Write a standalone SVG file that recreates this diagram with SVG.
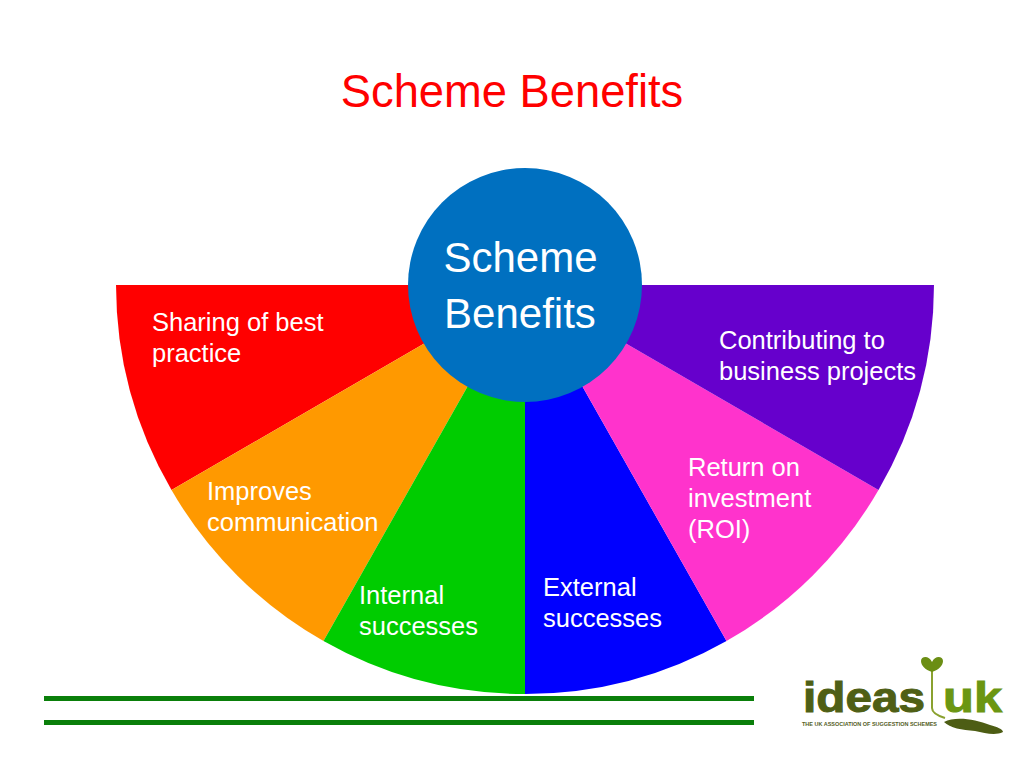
<svg xmlns="http://www.w3.org/2000/svg" width="1024" height="768" viewBox="0 0 1024 768">
<style>
text{font-family:"Liberation Sans",Arial,sans-serif}
.l{font-size:25.500px;fill:#fff}
.c{font-size:42px;fill:#fff}
.lg{font-weight:700}
</style>
<rect width="1024" height="768" fill="#fff"/>
<text id="title" x="512" y="107" text-anchor="middle" font-size="45.300" fill="#f00">Scheme Benefits</text>
<g id="slice-red"><path d="M525 285H116A409 409 0 0 0 171.500 490Z" fill="#f00"/><text class="l" x="152" y="331">Sharing of best</text><text class="l" x="152" y="362">practice</text></g>
<g id="slice-orange"><path d="M525 285L171.500 490A409 409 0 0 0 323.500 641Z" fill="#f90"/><text class="l" x="207" y="500">Improves</text><text class="l" x="207" y="531">communication</text></g>
<g id="slice-green"><path d="M525 285L323.500 641A409 409 0 0 0 525 694Z" fill="#0c0"/><text class="l" x="359" y="604">Internal</text><text class="l" x="359" y="635">successes</text></g>
<g id="slice-blue"><path d="M525 285V694A409 409 0 0 0 726.500 641Z" fill="#00f"/><text class="l" x="543" y="596">External</text><text class="l" x="543" y="627">successes</text></g>
<g id="slice-pink"><path d="M525 285L726.500 641A409 409 0 0 0 878.500 490Z" fill="#f3c"/><text class="l" x="688" y="476">Return on</text><text class="l" x="688" y="507">investment</text><text class="l" x="688" y="538">(ROI)</text></g>
<g id="slice-purple"><path d="M525 285L878.500 490A409 409 0 0 0 934 285Z" fill="#60c"/><text class="l" x="719" y="349">Contributing to</text><text class="l" x="719" y="380">business projects</text></g>
<g id="hub"><circle cx="525" cy="285" r="117" fill="#0070c0"/><text class="c" x="520.500" y="272" text-anchor="middle">Scheme</text><text class="c" x="520" y="328" text-anchor="middle">Benefits</text></g>
<g id="rules" fill="#0a7f0a"><rect x="44" y="696" width="710" height="5"/><rect x="44" y="720" width="710" height="5"/></g>
<g id="logo">
<path d="M932 668V708Q932 714 945 718" fill="none" stroke="#8aa12f" stroke-width="2"/>
<path d="M932 672C925 670 921 665 921 661C921 656 929 655 932 662C935 655 943 656 943 661C943 665 939 670 932 672Z" fill="#6b8e14"/>
<path d="M944 722C955 716 975 719 990 725C997 727 1003 729 1003 732C995 736 985 733 975 731C962 730 950 728 944 722Z" fill="#4d5d14"/>
<text class="lg" x="803" y="712" font-size="43" fill="#4f5f15" stroke="#4f5f15" stroke-width="1" textLength="122" lengthAdjust="spacingAndGlyphs">ideas</text>
<text class="lg" x="943" y="712" font-size="43" fill="#6b9612" stroke="#6b9612" stroke-width="1" textLength="59" lengthAdjust="spacingAndGlyphs">uk</text>
<text class="lg" x="802" y="726" font-size="5" fill="#55601f" textLength="135" lengthAdjust="spacingAndGlyphs">THE UK ASSOCIATION OF SUGGESTION SCHEMES</text>
</g>
</svg>
